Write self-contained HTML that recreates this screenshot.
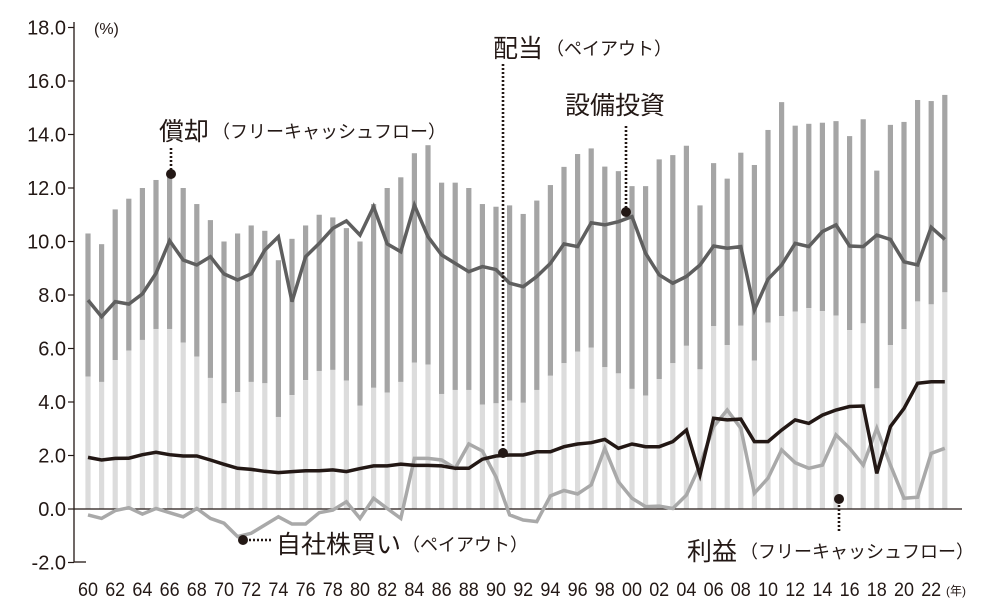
<!DOCTYPE html>
<html><head><meta charset="utf-8">
<style>
html,body{margin:0;padding:0;background:#fff;}
svg{display:block;}
text{font-family:"Liberation Sans","Noto Sans CJK JP",sans-serif;fill:#231815;}
</style></head>
<body>
<svg id="c" width="1006" height="611" viewBox="0 0 1006 611" xmlns="http://www.w3.org/2000/svg">
</svg>
<script>
var NS="http://www.w3.org/2000/svg",svg=document.getElementById('c');
function el(t,a,txt){var e=document.createElementNS(NS,t);for(var k in a)e.setAttribute(k,a[k]);if(txt!=null)e.textContent=txt;svg.appendChild(e);return e;}
function X(i){return 88+i*13.6;}
function Y(v){return 509-v*26.75;}
var tot=[10.3,9.9,11.2,11.6,12.0,12.3,12.4,12.0,11.4,10.8,10.0,10.3,10.6,10.4,9.3,10.1,10.6,11.0,10.9,10.5,10.0,11.4,12.0,12.4,13.3,13.6,12.2,12.2,12.0,11.4,11.3,11.35,11.03,11.53,12.11,12.79,13.27,13.48,12.8,12.63,12.07,12.07,13.07,13.23,13.58,11.35,12.93,12.35,13.32,12.86,14.17,15.21,14.33,14.4,14.44,14.5,13.94,14.57,12.65,14.36,14.47,15.29,15.25,15.48];
var low=[4.95,4.75,5.57,5.92,6.32,6.73,6.73,6.22,5.7,4.9,3.95,4.37,4.75,4.7,3.44,4.26,4.82,5.16,5.2,4.8,3.86,4.53,4.35,4.75,5.47,5.4,4.3,4.45,4.45,3.9,3.95,4.05,3.97,4.45,4.98,5.45,5.88,6.03,5.3,5.07,4.49,4.24,4.86,5.45,6.1,5.22,6.84,6.13,6.85,5.55,6.97,7.21,7.38,7.51,7.4,7.23,6.69,6.94,4.51,6.13,6.72,7.76,7.65,8.1];
var capex=[7.81,7.19,7.75,7.66,8.04,8.81,10.03,9.31,9.12,9.43,8.79,8.56,8.79,9.68,10.18,7.75,9.43,9.93,10.49,10.77,10.24,11.3,9.91,9.62,11.36,10.18,9.5,9.18,8.87,9.06,8.95,8.44,8.31,8.69,9.18,9.91,9.81,10.7,10.62,10.74,10.93,9.56,8.75,8.44,8.69,9.12,9.83,9.75,9.81,7.44,8.59,9.12,9.93,9.81,10.37,10.62,9.83,9.81,10.24,10.08,9.24,9.12,10.53,10.08];
var div=[1.93,1.83,1.89,1.9,2.03,2.12,2.03,1.98,1.98,1.83,1.67,1.52,1.48,1.41,1.36,1.4,1.43,1.43,1.46,1.4,1.51,1.61,1.61,1.68,1.63,1.63,1.61,1.52,1.52,1.86,1.98,2.02,2.02,2.14,2.14,2.33,2.43,2.48,2.6,2.27,2.43,2.33,2.33,2.52,2.95,1.27,3.39,3.33,3.36,2.52,2.52,2.95,3.33,3.2,3.51,3.7,3.83,3.85,1.33,3.08,3.76,4.7,4.76,4.76];
var buy=[-0.22,-0.35,-0.06,0.05,-0.19,0.02,-0.14,-0.29,0.02,-0.35,-0.53,-1.03,-0.91,-0.6,-0.29,-0.56,-0.56,-0.14,-0.04,0.27,-0.35,0.4,0.02,-0.35,1.89,1.89,1.83,1.52,2.43,2.17,1.2,-0.22,-0.41,-0.47,0.49,0.69,0.56,0.9,2.27,1.02,0.4,0.09,0.11,0.02,0.52,1.64,3.08,3.7,3.02,0.59,1.15,2.21,1.73,1.52,1.64,2.77,2.27,1.64,3.02,1.64,0.4,0.44,2.08,2.27];
for(var i=0;i<64;i++){
  el('rect',{x:X(i)-2.6,y:Y(tot[i]),width:5.2,height:Y(low[i])-Y(tot[i]),fill:'#a5a5a5'});
  el('rect',{x:X(i)-2.6,y:Y(low[i]),width:5.2,height:Y(0)-Y(low[i]),fill:'#dcdcdc'});
}
el('line',{x1:74,y1:509,x2:962,y2:509,stroke:'#231815','stroke-width':1.3});
el('line',{x1:74,y1:22,x2:74,y2:562,stroke:'#231815','stroke-width':1.3});
el('line',{x1:74,y1:562,x2:86,y2:562,stroke:'#231815','stroke-width':1.3});
for(var v=-2;v<=18;v+=2){
  el('line',{x1:68,y1:Y(v),x2:74,y2:Y(v),stroke:'#231815','stroke-width':1.2});
  el('text',{x:66,y:Y(v)+7,'text-anchor':'end','font-size':20},v.toFixed(1));
}
el('text',{x:94,y:34,'font-size':16},'(%)');
function line(d,c,w){var p=d.map(function(v,i){return X(i).toFixed(1)+','+Y(v).toFixed(1)}).join(' ');
  el('polyline',{points:p,fill:'none',stroke:c,'stroke-width':w,'stroke-linejoin':'miter'});}
line(buy,'#a9a9a9',3.5);
line(capex,'#5f5f5f',3.5);
line(div,'#231815',3.5);
for(var y=0;y<=62;y+=2){
  el('text',{x:X(y),y:596,'text-anchor':'middle','font-size':19,textLength:20,lengthAdjust:'spacingAndGlyphs'},((60+y)%100).toString().padStart(2,'0'));
}
el('text',{x:946,y:595,'font-size':12},'(年)');
function dot(x,y){el('circle',{cx:x,cy:y,r:5,fill:'#231815'});}
function dots(x1,y1,x2,y2){el('line',{x1:x1,y1:y1,x2:x2,y2:y2,stroke:'#231815','stroke-width':2.6,'stroke-dasharray':'2 2','stroke-linecap':'butt'});}
dots(171,148,171,172);dot(171,174);
el('text',{x:159,y:140,'font-size':25},'償却');
el('text',{x:212,y:138,'font-size':18},'（フリーキャッシュフロー）');
dots(503,64,503,450);dot(503,453);
el('text',{x:493,y:57,'font-size':25},'配当');
el('text',{x:546,y:55,'font-size':18},'（ペイアウト）');
dots(626,126,626,208);dot(626,212);
el('text',{x:565,y:114,'font-size':25},'設備投資');
dot(243,540);dots(249,540,272,540);
el('text',{x:276,y:553,'font-size':25},'自社株買い');
el('text',{x:402,y:551,'font-size':18},'（ペイアウト）');
dot(839,499);dots(839,505,839,532);
el('text',{x:687,y:560,'font-size':25},'利益');
el('text',{x:740,y:558,'font-size':18},'（フリーキャッシュフロー）');
</script>
</body></html>
